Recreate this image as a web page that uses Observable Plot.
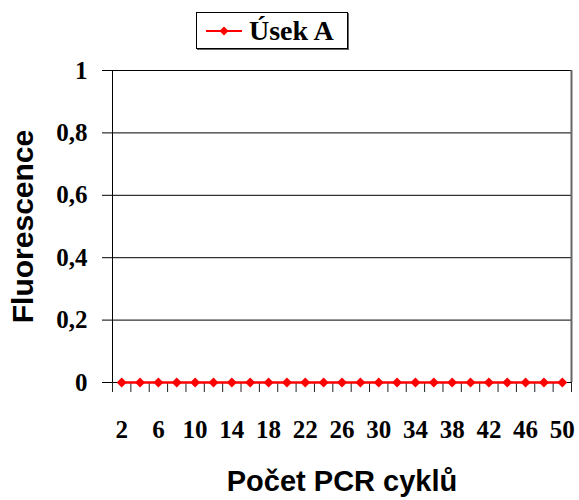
<!DOCTYPE html>
<html>
<head>
<meta charset="utf-8">
<script src="https://cdn.jsdelivr.net/npm/d3@7"></script>
<script src="https://cdn.jsdelivr.net/npm/@observablehq/plot@0.6"></script>
<style>
  body { margin: 0; background: #fff; }
  #wrap { width: 579px; height: 500px; position: relative; background: #fff; }
  #legend { height: 60px; position: relative; }
  #legend .box {
    position: absolute; left: 196px; top: 12px; width: 152px; height: 37px;
    border: 1px solid #000; box-shadow: 1px 1px 0 #666; background: #fff;
    display: flex; align-items: center; box-sizing: border-box;
  }
  #legend .box svg { margin-left: 9px; }
  #legend .box span {
    font-family: "Liberation Serif", "Times New Roman", serif; font-weight: bold;
    font-size: 28px; margin-left: 7px; line-height: 1; color: #000;
  }
</style>
</head>
<body>
<div id="wrap">
  <div id="legend"></div>
  <div id="chart"></div>
</div>
<script>
// ---- data ----
const seriesName = "Úsek A";
const cycles = [2, 4, 6, 8, 10, 12, 14, 16, 18, 20, 22, 24, 26, 28, 30, 32, 34, 36, 38, 40, 42, 44, 46, 48, 50];
const fluorescence = [0, 0, 0, 0, 0, 0, 0, 0, 0, 0, 0, 0, 0, 0, 0, 0, 0, 0, 0, 0, 0, 0, 0, 0, 0];
const xTickLabels = [2, 6, 10, 14, 18, 22, 26, 30, 34, 38, 42, 46, 50];
const yTicks = [0, 0.2, 0.4, 0.6, 0.8, 1];
const xTitle = "Počet PCR cyklů";
const yTitle = "Fluorescence";

const data = cycles.map((c, i) => ({cycle: c, value: fluorescence[i]}));
const step = cycles[1] - cycles[0];
const boundaries = cycles.map(c => c - step / 2).concat([cycles[cycles.length - 1] + step / 2]);

// ---- legend ----
const legend = document.getElementById("legend");
legend.innerHTML = `<div class="box">
  <svg width="36" height="12" viewBox="0 0 36 12">
    <line x1="0" y1="6" x2="36" y2="6" stroke="red" stroke-width="2"/>
    <path d="M18 1.5 L22.5 6 L18 10.5 L13.5 6 Z" fill="red"/>
  </svg><span>${seriesName}</span></div>`;

// ---- chart ----
const serif = "Liberation Serif, Times New Roman, serif";
const sans = "Liberation Sans, Arial, sans-serif";
const chart = Plot.plot({
  width: 579,
  height: 440,
  marginTop: 10,
  marginBottom: 118,
  marginLeft: 112,
  marginRight: 8,
  style: {fontFamily: serif, fontWeight: "bold", fontSize: "25px", color: "#000", background: "#fff", overflow: "visible"},
  x: {type: "linear", domain: [boundaries[0], boundaries[boundaries.length - 1]], axis: null, label: null},
  y: {domain: [0, 1], axis: null, label: null},
  marks: [
    Plot.gridY(yTicks, {stroke: "#000", strokeOpacity: 1, strokeWidth: 1}),
    Plot.ruleX([boundaries[0]], {stroke: "#000", strokeWidth: 1}),
    Plot.ruleX([boundaries[boundaries.length - 1]], {stroke: "#666", strokeWidth: 2}),
    Plot.axisY(yTicks, {
      tickSize: 10, tickPadding: 15, stroke: "#000", label: null,
      tickFormat: d => String(d).replace(".", ","),
      fontFamily: serif, fontWeight: "bold", fontSize: 25
    }),
    Plot.axisX(boundaries, {tickSize: 10, tickFormat: () => "", stroke: "#222", label: null}),
    Plot.axisX(xTickLabels, {
      tickSize: 0, tickPadding: 38, label: null,
      tickFormat: d => String(d),
      fontFamily: serif, fontWeight: "bold", fontSize: 25
    }),
    Plot.line(data, {x: "cycle", y: "value", stroke: "red", strokeWidth: 2.5}),
    Plot.dot(data, {x: "cycle", y: "value", symbol: "diamond2", r: 4.5, fill: "red", stroke: "none"}),
    Plot.text([yTitle], {
      frameAnchor: "left", textAnchor: "middle", lineAnchor: "middle", rotate: -90, dx: -89, text: d => d,
      fontFamily: sans, fontWeight: "bold", fontSize: 30, fill: "#000"
    }),
    Plot.text([xTitle], {
      frameAnchor: "bottom", textAnchor: "middle", lineAnchor: "middle", dy: 99, text: d => d,
      fontFamily: sans, fontWeight: "bold", fontSize: 29, fill: "#000"
    })
  ]
});
document.getElementById("chart").appendChild(chart);
</script>
</body>
</html>
